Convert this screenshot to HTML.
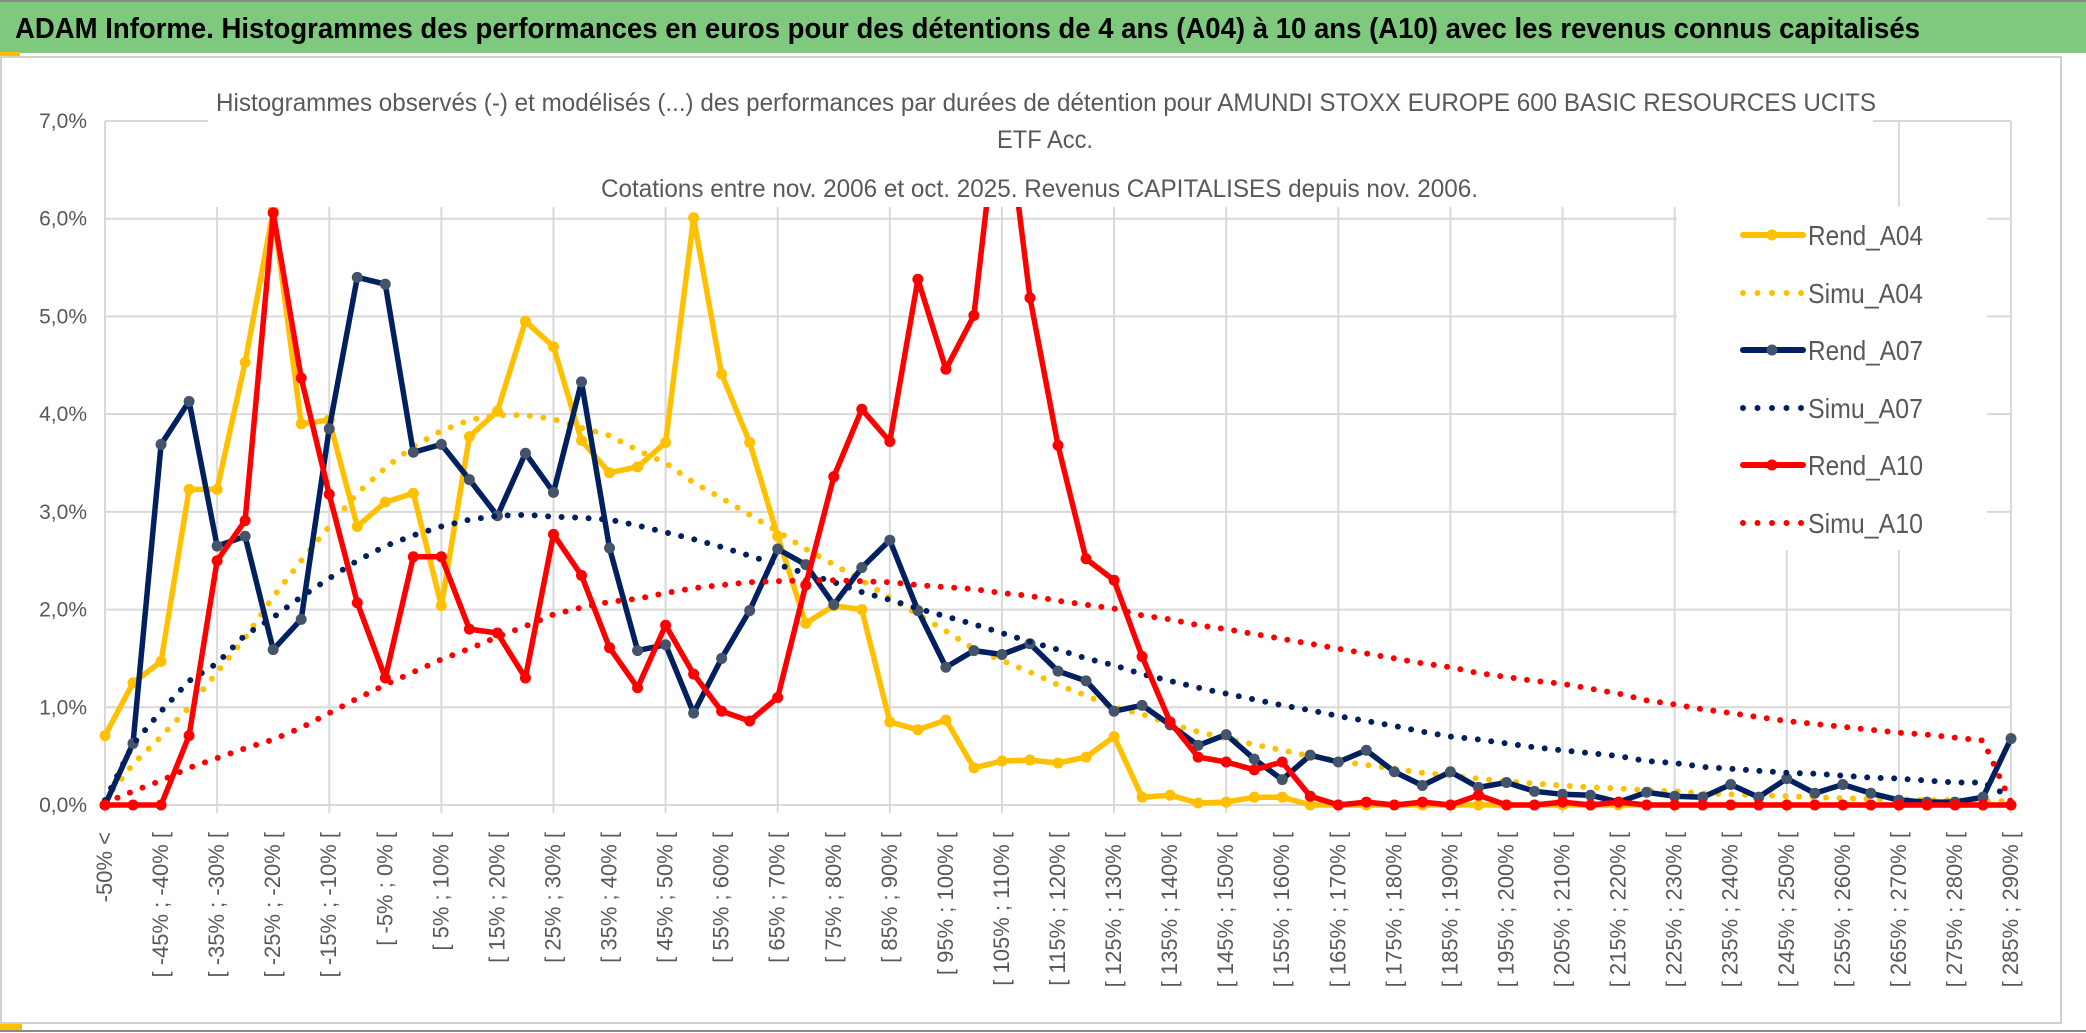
<!DOCTYPE html>
<html><head><meta charset="utf-8"><style>
html,body{margin:0;padding:0;background:#fff;}
svg{display:block;}
text{font-family:"Liberation Sans Narrow","Liberation Sans",sans-serif;}
</style></head><body>
<svg id="chart" width="2086" height="1033" viewBox="0 0 2086 1033" xmlns="http://www.w3.org/2000/svg">
<rect x="0" y="0" width="2086" height="1033" fill="#fff"/>
<rect x="1" y="57" width="2060" height="966" fill="#fff" stroke="#d0d0d0" stroke-width="2"/>
<rect x="0" y="2" width="2086" height="51" fill="#7fc97f"/>
<line x1="0" y1="1" x2="2086" y2="1" stroke="#8a8a8a" stroke-width="2"/>
<rect x="0" y="52" width="20" height="4" fill="#ffc000"/>
<rect x="0" y="1024" width="22" height="6" fill="#ffc000"/>
<line x1="0" y1="1031" x2="2086" y2="1031" stroke="#8a8a8a" stroke-width="2"/>
<text x="15" y="38" font-size="29" font-weight="bold" fill="#000" textLength="1905" lengthAdjust="spacingAndGlyphs">ADAM Informe. Histogrammes des performances en euros pour des détentions de 4 ans (A04) à 10 ans (A10) avec les revenus connus capitalisés</text>
<g id="grid"></g>
<g id="series"></g>
<rect x="208" y="62" width="1665" height="145" fill="#fff"/>
<text x="216" y="111" font-size="25" fill="#595959" textLength="1660" lengthAdjust="spacingAndGlyphs">Histogrammes observés (-) et modélisés (...) des performances par durées de détention pour AMUNDI STOXX EUROPE 600 BASIC RESOURCES UCITS</text>
<text x="997" y="148" font-size="25" fill="#595959" textLength="96" lengthAdjust="spacingAndGlyphs">ETF Acc.</text>
<text x="601" y="197" font-size="25" fill="#595959" textLength="877" lengthAdjust="spacingAndGlyphs">Cotations entre nov. 2006 et oct. 2025. Revenus CAPITALISES depuis nov. 2006.</text>
<g id="legend"></g>
<g id="axes"></g>
</svg>
<script>
const categoriesStart = -50;
const categoryStep = 5;
const categoryCount = 69;
const yTicks = [0,1,2,3,4,5,6,7];
const rendA04 = [0.71,1.25,1.47,3.23,3.23,4.53,6.08,3.90,3.94,2.85,3.10,3.19,2.04,3.77,4.03,4.95,4.69,3.73,3.40,3.46,3.71,6.01,4.41,3.71,2.75,1.86,2.04,2.00,0.85,0.77,0.87,0.38,0.45,0.46,0.43,0.49,0.70,0.08,0.10,0.02,0.03,0.08,0.08,0,0,0,0,0,0,0,0,0,0,0,0,0,0,0,0,0,0,0,0,0,0,0,0,0,0];
const simuA04 = [0.05,0.42,0.70,1.00,1.36,1.71,2.13,2.50,2.85,3.19,3.45,3.67,3.83,3.94,3.99,3.99,3.95,3.86,3.78,3.63,3.50,3.30,3.14,2.97,2.80,2.62,2.46,2.30,2.12,1.95,1.78,1.60,1.48,1.36,1.23,1.12,1.00,0.93,0.83,0.75,0.68,0.62,0.56,0.50,0.45,0.41,0.37,0.33,0.30,0.27,0.24,0.22,0.20,0.18,0.17,0.15,0.14,0.12,0.11,0.10,0.09,0.08,0.07,0.06,0.06,0.05,0.05,0.04,0.04];
const rendA07 = [0,0.63,3.69,4.13,2.65,2.75,1.59,1.90,3.85,5.40,5.33,3.61,3.69,3.33,2.96,3.60,3.20,4.33,2.63,1.58,1.64,0.94,1.50,1.99,2.62,2.46,2.05,2.43,2.71,1.99,1.41,1.58,1.54,1.65,1.37,1.27,0.96,1.02,0.82,0.61,0.72,0.47,0.26,0.51,0.44,0.56,0.34,0.20,0.34,0.18,0.23,0.14,0.11,0.10,0.03,0.13,0.09,0.08,0.21,0.08,0.27,0.12,0.21,0.12,0.05,0.03,0.03,0.08,0.68];
const simuA07 = [0.05,0.62,0.96,1.27,1.45,1.74,1.92,2.13,2.32,2.50,2.65,2.76,2.85,2.92,2.96,2.97,2.95,2.94,2.92,2.86,2.79,2.72,2.64,2.55,2.46,2.37,2.28,2.18,2.10,2.01,1.93,1.85,1.76,1.67,1.59,1.50,1.43,1.34,1.27,1.20,1.14,1.08,1.02,0.97,0.91,0.86,0.81,0.75,0.70,0.67,0.63,0.59,0.56,0.53,0.50,0.45,0.43,0.39,0.37,0.35,0.33,0.32,0.30,0.28,0.27,0.25,0.23,0.23,0.08];
const rendA10 = [0,0,0,0.71,2.50,2.91,6.06,4.37,3.18,2.07,1.30,2.54,2.54,1.80,1.76,1.30,2.77,2.35,1.61,1.20,1.84,1.34,0.96,0.86,1.10,2.25,3.36,4.05,3.72,5.38,4.46,5.01,7.5,5.19,3.68,2.52,2.30,1.52,0.85,0.49,0.44,0.36,0.44,0.09,0,0.03,0,0.03,0,0.10,0,0,0.03,0,0.03,0,0,0,0,0,0,0,0,0,0,0,0,0,0];
const simuA10 = [0.02,0.14,0.25,0.38,0.48,0.58,0.67,0.79,0.94,1.09,1.23,1.36,1.49,1.60,1.72,1.83,1.95,2.02,2.08,2.11,2.17,2.22,2.25,2.28,2.29,2.30,2.30,2.29,2.28,2.25,2.23,2.21,2.17,2.14,2.09,2.05,2.01,1.94,1.90,1.84,1.80,1.75,1.70,1.65,1.60,1.55,1.50,1.45,1.41,1.35,1.31,1.27,1.24,1.19,1.14,1.07,1.03,0.98,0.94,0.90,0.86,0.83,0.80,0.77,0.74,0.72,0.69,0.66,0.03];

const NS = "http://www.w3.org/2000/svg";
const X0 = 105, X1 = 2011, Y0 = 805, YTOP = 121, YMAX = 7;
function xs(i){ return X0 + (X1 - X0) * i / (categoryCount - 1); }
function ys(v){ return Y0 - (Y0 - YTOP) * v / YMAX; }
function mk(tag, attrs, parent){ const e = document.createElementNS(NS, tag); for (const k in attrs) e.setAttribute(k, attrs[k]); parent.appendChild(e); return e; }
function catLabel(i){
  if (i === 0) return categoriesStart + "% <";
  const a = categoriesStart + categoryStep * (i - 1), b = a + categoryStep;
  return "[ " + a + "% ; " + b + "% [";
}

const grid = document.getElementById("grid");
yTicks.forEach(t => {
  const l = mk("line", {x1: X0, x2: X1, y1: ys(t), y2: ys(t), stroke: "#d9d9d9", "stroke-width": 2}, grid);
  
  
});
for (let i = 0; i < categoryCount; i += 4) {
  const l = mk("line", {x1: xs(i), x2: xs(i), y1: YTOP, y2: Y0 + 8, stroke: "#d9d9d9", "stroke-width": 2}, grid);
  
  
}

const defs = mk("defs", {}, document.getElementById("chart"));
const cp = mk("clipPath", {id: "plotclip"}, defs);
mk("rect", {x: 0, y: YTOP, width: 2086, height: 1033 - YTOP}, cp);

const seriesG = document.getElementById("series");
seriesG.setAttribute("clip-path", "url(#plotclip)");
const seriesDefs = [
  {name: "rend-a04", data: rendA04, color: "#ffc000", marker: "#ffc000", dotted: false},
  {name: "simu-a04", data: simuA04, color: "#ffc000", dotted: true},
  {name: "rend-a07", data: rendA07, color: "#002060", marker: "#44546a", dotted: false},
  {name: "simu-a07", data: simuA07, color: "#002060", dotted: true},
  {name: "rend-a10", data: rendA10, color: "#ff0000", marker: "#ff0000", dotted: false},
  {name: "simu-a10", data: simuA10, color: "#ff0000", dotted: true}
];
seriesDefs.forEach(s => {
  const g = mk("g", {}, seriesG);
  
  
  const pts = s.data.map((v, i) => xs(i).toFixed(1) + "," + ys(v).toFixed(1)).join(" ");
  const pl = mk("polyline", {points: pts, fill: "none", stroke: s.color, "stroke-width": s.dotted ? 6 : 5.5, "stroke-linejoin": "round", "stroke-linecap": "round"}, g);
  if (s.dotted) pl.setAttribute("stroke-dasharray", "0 13.5");
  
  
  if (!s.dotted) {
    s.data.forEach((v, i) => {
      const c = mk("circle", {cx: xs(i), cy: ys(v), r: 5.5, fill: s.marker}, g);
      
      
    });
  }
});

const axes = document.getElementById("axes");
yTicks.forEach(t => {
  const tx = mk("text", {x: 87, y: ys(t) + 7, "font-size": 21, fill: "#595959", "text-anchor": "end"}, axes);
  tx.textContent = t.toFixed(1).replace(".", ",") + "%";
  
  
});
for (let i = 0; i < categoryCount; i += 2) {
  const x = xs(i) + 7, y = 832;
  const tx = mk("text", {x: x, y: y, "font-size": 22, fill: "#595959", "text-anchor": "end", "font-family": "Liberation Sans, sans-serif", transform: "rotate(-90 " + x + " " + y + ")"}, axes);
  tx.textContent = catLabel(i);
  
  
}

const legend = document.getElementById("legend");
mk("rect", {x: 1677, y: 207, width: 310, height: 343, fill: "#fff"}, legend);
const legendNames = ["Rend_A04","Simu_A04","Rend_A07","Simu_A07","Rend_A10","Simu_A10"];
const legendY = [235, 293, 350, 408, 465, 523];
seriesDefs.forEach((s, k) => {
  const y = legendY[k];
  const g = mk("g", {}, legend);
  
  
  if (s.dotted) {
    mk("line", {x1: 1743, x2: 1803, y1: y, y2: y, stroke: s.color, "stroke-width": 6, "stroke-linecap": "round", "stroke-dasharray": "0 14.5"}, g);
  } else {
    mk("line", {x1: 1743, x2: 1803, y1: y, y2: y, stroke: s.color, "stroke-width": 6, "stroke-linecap": "round"}, g);
    mk("circle", {cx: 1772, cy: y, r: 5.5, fill: s.marker}, g);
  }
  const tx = mk("text", {x: 1808, y: y + 10, "font-size": 28, fill: "#595959", textLength: 115, lengthAdjust: "spacingAndGlyphs"}, g);
  tx.textContent = legendNames[k];
});
</script>
</body></html>
